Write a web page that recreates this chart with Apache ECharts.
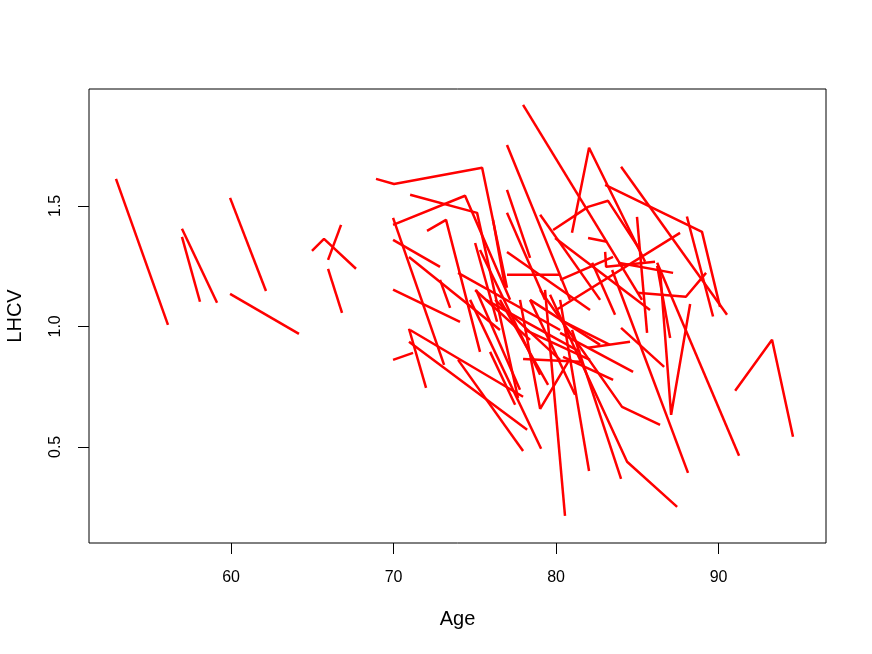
<!DOCTYPE html>
<html>
<head>
<meta charset="utf-8">
<script src="https://cdn.jsdelivr.net/npm/echarts@6/dist/echarts.min.js"></script>
<style>
  html, body { margin: 0; padding: 0; background: #fff; }
  #chart { width: 872px; height: 654px; }
</style>
</head>
<body>
<div id="chart"></div>
<script>
// one entry per subject: ages at each visit, and the LHCV values at those visits
var subjectAges = [
  [52.92, 56.12], [56.98, 59.14], [56.98, 58.09], [59.94, 62.15], [59.94, 64.18],
  [64.98, 65.72, 67.69], [65.97, 66.77], [65.97, 66.83],
  [68.92, 70.03, 75.45, 76.98], [69.97, 74.40, 77.17], [71.02, 75.14, 77.66],
  [69.97, 71.20], [70.95, 72.00], [71.02, 77.97], [70.95, 78.22], [73.97, 77.97],
  [74.71, 79.08], [72.06, 73.23, 75.32], [69.97, 73.11], [69.97, 74.09], [69.97, 72.86],
  [70.95, 76.55], [75.02, 76.37], [73.97, 80.25], [76.98, 82.09], [76.98, 80.25],
  [77.97, 85.29], [80.98, 82.03, 85.48], [84.00, 90.52], [83.02, 88.98, 90.09],
  [76.98, 80.86], [76.98, 78.40], [79.02, 82.71], [79.82, 81.97, 83.20, 85.17],
  [81.97, 83.14], [79.94, 85.78], [83.02, 83.08, 86.09], [80.00, 87.63],
  [91.02, 93.29, 94.58], [86.22, 91.26], [86.40, 87.08, 88.25], [84.00, 86.65],
  [80.25, 82.03], [79.63, 84.37, 87.45], [80.98, 84.00], [83.45, 88.12],
  [79.02, 84.06, 86.40], [84.98, 85.60], [86.22, 87.02], [84.98, 87.99, 89.23],
  [81.97, 84.55], [80.25, 84.74], [80.43, 83.51], [77.78, 79.02, 80.74],
  [77.97, 81.48], [79.32, 80.55], [88.05, 89.66], [83.82, 87.20], [76.12, 76.86],
  [75.02, 78.40], [82.22, 83.63], [80.25, 83.51], [75.32, 79.02], [76.25, 80.25],
  [78.40, 82.71], [72.86, 73.48], [76.98, 79.32], [75.94, 77.48],
  [75.08, 77.78], [76.55, 79.51], [78.09, 82.09], [80.25, 83.32], [75.69, 81.48],
  [78.40, 81.17]
];
var subjectLhcv = [
  [1.612, 1.006], [1.405, 1.098], [1.371, 1.102], [1.533, 1.147], [1.135, 0.969],
  [1.313, 1.363, 1.239], [1.276, 1.421], [1.239, 1.056],
  [1.612, 1.591, 1.658, 1.160], [1.421, 1.542, 1.110], [1.546, 1.471, 0.703],
  [0.861, 0.890], [0.990, 0.745], [0.985, 0.708], [0.936, 0.571], [0.861, 0.483],
  [1.110, 0.492], [1.396, 1.442, 0.894], [1.450, 0.840], [1.152, 1.019], [1.359, 1.247],
  [1.288, 0.985], [1.346, 1.019], [1.222, 0.985], [1.309, 1.068], [1.214, 1.214],
  [1.919, 1.110], [1.388, 1.741, 1.268], [1.662, 1.048], [1.587, 1.392, 1.081],
  [1.753, 1.110], [1.566, 1.284], [1.463, 1.110], [1.400, 1.496, 1.521, 1.317],
  [1.367, 1.351], [1.367, 1.068], [1.309, 1.247, 1.268], [1.068, 1.388],
  [0.733, 0.944, 0.542], [1.264, 0.463], [1.234, 0.633, 1.093], [0.994, 0.832],
  [1.110, 0.400], [1.131, 0.438, 0.251], [0.985, 0.367], [1.234, 0.392],
  [1.151, 0.666, 0.591], [1.454, 0.973], [1.251, 0.952], [1.139, 1.123, 1.222],
  [0.911, 0.936], [0.973, 0.811], [0.873, 0.778], [1.110, 0.658, 0.853],
  [0.865, 0.853], [1.151, 0.214], [1.456, 1.041], [1.264, 1.222], [1.442, 1.164],
  [1.151, 0.944], [1.264, 1.048], [1.193, 1.288], [1.317, 0.799], [1.110, 0.861],
  [1.110, 0.923], [1.193, 1.077], [1.471, 1.110], [0.894, 0.675],
  [1.151, 0.737], [1.110, 0.757], [0.985, 0.861], [1.027, 0.923], [1.110, 0.894],
  [1.110, 0.716]
];
var xTicks = [60, 70, 80, 90];
var yTicks = [0.5, 1.0, 1.5];

var series = []
for (var i = 0; i < subjectAges.length; i++) {
  var pts = []
  for (var j = 0; j < subjectAges[i].length; j++) {
    pts.push([subjectAges[i][j], subjectLhcv[i][j]])
  }
  series.push({
    type: 'line',
    data: pts,
    showSymbol: false,
    silent: true,
    lineStyle: { color: '#ff0000', width: 2.5 }
  })
}

var font = 'Liberation Sans, Arial, sans-serif'
var option = {
  animation: false,
  grid: {
    left: 89, right: 46, top: 89, bottom: 111,
    containLabel: false, outerBoundsMode: 'none',
    show: true, borderColor: '#000', borderWidth: 1, backgroundColor: '#fff'
  },
  xAxis: {
    type: 'value',
    min: 51.26, max: 96.61,
    name: 'Age', nameLocation: 'middle', nameGap: 66,
    nameTextStyle: { fontFamily: font, fontSize: 20, color: '#000' },
    axisLine: { show: false },
    splitLine: { show: false },
    axisTick: { show: true, inside: false, length: 11, customValues: xTicks,
      lineStyle: { color: '#000', width: 1 } },
    axisLabel: { customValues: xTicks, margin: 27, fontFamily: font, fontSize: 16, color: '#000' }
  },
  yAxis: {
    type: 'value',
    min: 0.101, max: 1.985,
    name: 'LHCV', nameLocation: 'middle', nameGap: 64, nameRotate: 90,
    nameTextStyle: { fontFamily: font, fontSize: 20, color: '#000' },
    axisLine: { show: false },
    splitLine: { show: false },
    axisTick: { show: true, inside: false, length: 11, customValues: yTicks,
      lineStyle: { color: '#000', width: 1 } },
    axisLabel: { customValues: yTicks, rotate: 90, margin: 25, fontFamily: font, fontSize: 16, color: '#000',
      formatter: function (v) { return v.toFixed(1) } }
  },
  series: series
}

var chart = echarts.init(document.getElementById('chart'), null, { renderer: 'canvas' })
chart.setOption(option)
</script>
</body>
</html>
